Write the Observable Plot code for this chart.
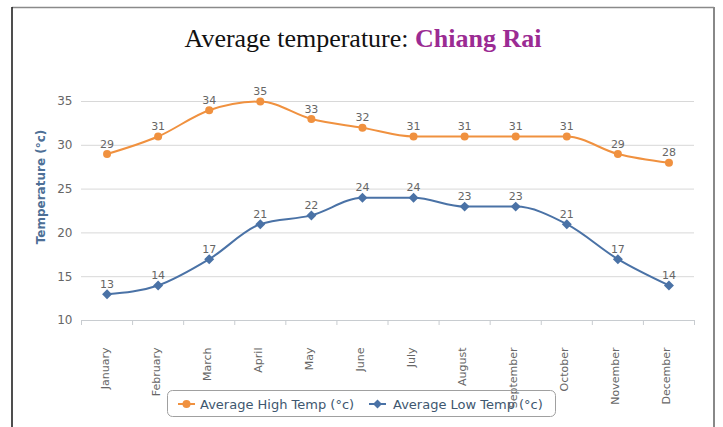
<!DOCTYPE html>
<html>
<head>
<meta charset="utf-8">
<script src="https://cdn.jsdelivr.net/npm/d3@7"></script>
<script src="https://cdn.jsdelivr.net/npm/@observablehq/plot@0.6"></script>
<style>
  html, body { margin: 0; padding: 0; background: #fff; }
  #wrap { position: relative; width: 723px; height: 427px; overflow: hidden; background: #fff; }
  #chart { position: absolute; left: 0; top: 0; }
  #overlay { position: absolute; left: 0; top: 0; pointer-events: none; }
</style>
</head>
<body>
<div id="wrap">
  <div id="chart"></div>
  <svg id="overlay" width="723" height="427" xmlns="http://www.w3.org/2000/svg">
    <!-- frame -->
    <line x1="12" y1="7.5" x2="714" y2="7.5" stroke="#8a8a8a" stroke-width="1.5"/>
    <line x1="12" y1="7" x2="12" y2="427" stroke="#222" stroke-width="1.6"/>
    <line x1="714" y1="7" x2="714" y2="427" stroke="#888" stroke-width="2"/>
    <!-- title -->
    <text x="363" y="47" text-anchor="middle" font-family="Liberation Serif, serif" font-size="26px" fill="#111">Average temperature: <tspan fill="#9b2b93" font-weight="bold">Chiang Rai</tspan></text>
    <!-- y axis title -->
    <text transform="translate(41,187) rotate(-90)" text-anchor="middle" dominant-baseline="central" font-family="DejaVu Sans, sans-serif" font-size="12px" font-weight="bold" fill="#4d6f96">Temperature (°c)</text>
    <!-- legend -->
    <rect x="167.5" y="390.5" width="388" height="26" rx="5" ry="5" fill="none" stroke="#a0a0a0" stroke-width="1"/>
    <line x1="178" y1="404" x2="195" y2="404" stroke="#f0913f" stroke-width="2"/>
    <circle cx="186.5" cy="404" r="4" fill="#f0913f"/>
    <text x="200" y="408.5" font-family="DejaVu Sans, sans-serif" font-size="13px" fill="#3e576f">Average High Temp (°c)</text>
    <line x1="369" y1="404" x2="386" y2="404" stroke="#4a72a6" stroke-width="2"/>
    <path d="M377.5,399.5 L382,404 L377.5,408.5 L373,404 Z" fill="#4a72a6"/>
    <text x="393" y="408.5" font-family="DejaVu Sans, sans-serif" font-size="13px" fill="#3e576f">Average Low Temp (°c)</text>
  </svg>
</div>
<script>
const months = ["January","February","March","April","May","June","July","August","September","October","November","December"];
const highTemp = [29, 31, 34, 35, 33, 32, 31, 31, 31, 31, 29, 28];
const lowTemp = [13, 14, 17, 21, 22, 24, 24, 23, 23, 21, 17, 14];
const yTicks = [10, 15, 20, 25, 30, 35];

const rows = months.map((m, i) => ({i, month: m, high: highTemp[i], low: lowTemp[i]}));
const boundaries = d3.range(months.length + 1).map(k => k - 0.5);

const highColor = "#f0913f";
const lowColor = "#4a72a6";

const chart = Plot.plot({
  width: 723,
  height: 427,
  marginLeft: 81,
  marginRight: 29,
  marginTop: 101,
  marginBottom: 107,
  x: {type: "linear", domain: [-0.5, months.length - 0.5]},
  y: {domain: [10, 35]},
  style: {fontFamily: "DejaVu Sans, sans-serif", fontSize: "11px", color: "#666", background: "transparent"},
  marks: [
    Plot.gridY(yTicks.filter(t => t > 10), {stroke: "#d8d8d8", strokeOpacity: 1}),
    Plot.ruleY([10], {stroke: "#c8ccd0"}),
    Plot.axisY(yTicks, {tickSize: 0, tickPadding: 9, label: null, fill: "#666", fontSize: 12}),
    Plot.axisX(boundaries, {tickSize: 5, tickFormat: () => "", stroke: "#c8ccd0", label: null}),
    Plot.axisX(d3.range(months.length), {tickSize: 0, tickRotate: -90, tickPadding: 27, tickFormat: i => months[i], label: null, fill: "#666", dx: -2}),
    Plot.lineY(rows, {x: "i", y: "high", stroke: highColor, strokeWidth: 2, curve: "monotone-x"}),
    Plot.dot(rows, {x: "i", y: "high", fill: highColor, r: 4, symbol: "circle"}),
    Plot.lineY(rows, {x: "i", y: "low", stroke: lowColor, strokeWidth: 2, curve: "monotone-x"}),
    Plot.dot(rows, {x: "i", y: "low", fill: lowColor, r: 4.5, symbol: "diamond2"}),
    Plot.text(rows, {x: "i", y: "high", text: d => String(d.high), dy: -10, fill: "#666"}),
    Plot.text(rows, {x: "i", y: "low", text: d => String(d.low), dy: -10, fill: "#666"})
  ]
});
document.getElementById("chart").appendChild(chart);
</script>
</body>
</html>
